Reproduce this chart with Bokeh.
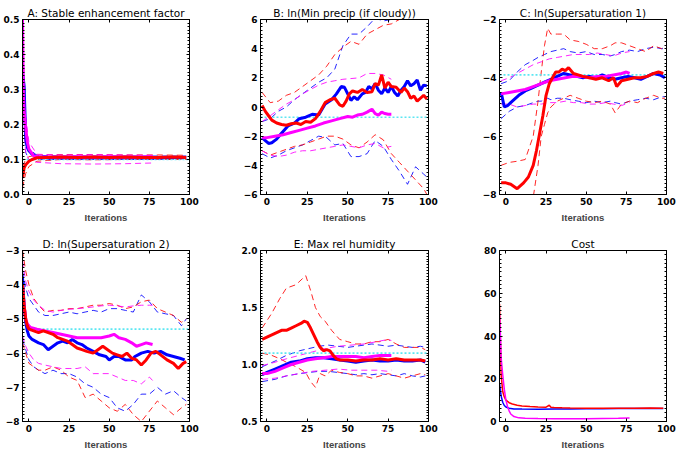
from bokeh.plotting import figure
from bokeh.layouts import gridplot
from bokeh.models import LinearAxis, FixedTicker, NumeralTickFormatter
from bokeh.embed import file_html
from bokeh.resources import INLINE

# ---------------------------------------------------------------- axes / ticks
X_RANGE = (-4, 100)
X_TICKS = [0, 25, 50, 75, 100]
X_LABEL = "Iterations"

TITLES = ["A: Stable enhancement factor", "B: ln(Min precip (if cloudy))",
          "C: ln(Supersaturation 1)", "D: ln(Supersaturation 2)",
          "E: Max rel humidity", "Cost"]

A_YTICKS = [0.0, 0.1, 0.2, 0.3, 0.4, 0.5]
B_YTICKS = [-6, -4, -2, 0, 2, 4, 6]
C_YTICKS = [-8, -6, -4, -2]
D_YTICKS = [-8, -7, -6, -5, -4, -3]
E_YTICKS = [0.5, 1.0, 1.5, 2.0]
F_YTICKS = [0, 20, 40, 60, 80]

# ---------------------------------------------------------------- panel A
A_TRUE = 0.1
A_blue_x = [-4, -3, -2, -1, 0, 2, 4, 6, 10, 20, 30, 40, 50, 60, 70, 80, 90, 98]
A_blue_y = [0.35, 0.31, 0.16, 0.135, 0.125, 0.115, 0.11, 0.107, 0.105, 0.105, 0.105,
            0.105, 0.105, 0.105, 0.105, 0.105, 0.106, 0.106]
A_red_x = [-4, -3, -2, -1, 0, 2, 5, 10, 20, 30, 40, 50, 60, 70, 80, 90, 98]
A_red_y = [0.047, 0.076, 0.085, 0.09, 0.095, 0.1, 0.105, 0.106, 0.107, 0.106, 0.107,
           0.106, 0.107, 0.106, 0.106, 0.107, 0.106]
A_mag_x = [-4, -3.5, -3, -2, -1, 0, 3, 6, 10, 20, 30, 40, 50, 60, 70, 77]
A_mag_y = [0.5, 0.3, 0.24, 0.19, 0.15, 0.13, 0.11, 0.108, 0.107, 0.107, 0.108, 0.107,
           0.108, 0.107, 0.107, 0.108]
A_band_x = [-4, -2, 0, 5, 20, 40, 60, 80, 98]
A_blue_hi = [0.4, 0.17, 0.13, 0.112, 0.11, 0.11, 0.11, 0.11, 0.11]
A_blue_lo = [0.3, 0.12, 0.1, 0.1, 0.1, 0.1, 0.1, 0.1, 0.102]
A_red_hi = [0.08, 0.1, 0.108, 0.113, 0.114, 0.114, 0.113, 0.113, 0.112]
A_red_lo = [0.02, 0.06, 0.08, 0.095, 0.1, 0.099, 0.1, 0.1, 0.1]
A_mband_x = [-4, -2, 0, 5, 20, 40, 60, 77]
A_mag_hi = [0.48, 0.22, 0.15, 0.115, 0.113, 0.114, 0.113, 0.112]
A_mag_lo = [0.25, 0.12, 0.1, 0.092, 0.088, 0.087, 0.088, 0.09]

# ---------------------------------------------------------------- panel B
B_TRUE = -0.7
B_blue_x = [-3, -1, 1, 3, 6, 9, 13, 17, 20, 24, 28, 32, 36, 40, 43, 46, 48, 50, 52, 54,
            56, 59, 61, 63, 65, 67, 69, 71, 73, 75, 77, 79, 81, 83, 85, 87, 89, 91, 93,
            95, 97, 99]
B_blue_y = [-2.1, -2.3, -2.5, -2.45, -2.2, -1.8, -1.3, -1.1, -0.8, -0.7, -0.5, -0.55,
            0.2, 0.5, 0.9, 1.4, 1.35, 0.9, 0.45, 0.7, 0.5, 0.9, 1.0, 1.4, 1.25, 1.6, 1.15,
            0.9, 1.3, 1.0, 1.4, 1.0, 0.75, 1.15, 1.4, 1.8, 1.45, 1.6, 1.85, 1.15, 1.5, 1.45]
B_red_x = [-3, -1, 1, 3, 6, 9, 12, 15, 18, 21, 24, 27, 30, 33, 36, 39, 42, 45, 47, 49,
           51, 53, 56, 59, 62, 65, 67, 69, 71, 73, 75, 77, 80, 83, 85, 87, 89, 91, 93,
           95, 97, 99]
B_red_y = [0.1, -0.3, -0.6, -0.9, -1.1, -1.2, -1.25, -1.15, -1.1, -1.2, -1.0, -1.05,
           -0.8, -0.3, 0.3, 0.5, 0.6, 0.15, 0.05, 0.4, 0.9, 1.1, 1.0, 1.2, 1.0, 1.05, 1.6,
           1.5, 2.2, 1.3, 1.7, 1.4, 1.35, 1.0, 1.3, 1.05, 0.6, 0.75, 0.4, 0.6, 0.8, 0.55]
B_mag_x = [-3, 0, 5, 10, 15, 20, 25, 30, 35, 40, 45, 50, 53, 56, 59, 62, 65, 67, 69, 71,
           73, 75, 77]
B_mag_y = [-2.1, -2.1, -2.0, -1.9, -1.75, -1.6, -1.45, -1.3, -1.1, -0.95, -0.8, -0.65,
           -0.7, -0.55, -0.5, -0.35, -0.15, -0.45, -0.55, -0.35, -0.45, -0.5, -0.5]
B_band_x = [-3, 2, 7, 12, 17, 22, 27, 32, 37, 42, 47, 52, 57, 62, 67, 72, 77, 82, 87,
            92, 97, 99]
B_blue_hi = [-1.0, -0.8, -0.3, 0.0, 0.5, 0.9, 1.3, 1.7, 2.0, 2.6, 4.2, 5.0, 5.0, 5.5,
             6.1, 5.9, 6.0, 6.5, 7.0, 7.0, 7.0, 7.0]
B_blue_lo = [-3.2, -3.5, -3.3, -3.0, -2.8, -2.6, -2.3, -2.0, -2.1, -2.6, -2.5, -3.4,
             -3.4, -3.2, -2.3, -2.7, -3.6, -4.4, -5.3, -4.1, -4.6, -4.8]
B_red_hi = [1.0, 0.3, 0.4, 0.8, 1.0, 1.4, 1.8, 2.2, 2.8, 3.6, 4.1, 4.5, 4.3, 5.0, 5.3,
            5.6, 5.7, 6.0, 6.2, 6.3, 6.3, 6.3]
B_red_lo = [-3.0, -3.3, -3.1, -2.9, -2.7, -2.6, -2.4, -2.2, -2.0, -2.0, -2.2, -2.6,
            -2.8, -2.4, -1.9, -2.25, -3.2, -3.8, -4.4, -5.0, -5.6, -6.0]
B_mband_x = [-3, 2, 7, 12, 17, 22, 27, 32, 37, 42, 47, 52, 57, 62, 67, 72, 77]
B_mag_hi = [-1.0, -0.6, -0.2, 0.2, 0.5, 0.9, 1.2, 1.5, 1.7, 1.8, 1.9, 1.95, 2.0, 2.3,
            2.3, 2.2, 1.9]
B_mag_lo = [-3.0, -3.3, -3.4, -3.3, -3.1, -3.0, -3.0, -2.9, -2.8, -2.7, -2.6, -2.7,
            -2.8, -2.6, -2.5, -2.8, -2.7]

# ---------------------------------------------------------------- panel C
C_TRUE = -3.9
C_blue_x = [-3, -1, 1, 4, 8, 12, 16, 20, 24, 28, 32, 36, 40, 44, 48, 52, 56, 60, 64,
            68, 72, 76, 80, 84, 88, 92, 96, 99]
C_blue_y = [-4.5, -5.0, -4.95, -4.8, -4.6, -4.45, -4.35, -4.25, -4.15, -4.05, -3.95,
            -3.85, -3.9, -3.95, -4.0, -3.95, -4.0, -3.9, -4.0, -4.05, -4.0, -3.95, -4.0,
            -4.05, -3.95, -3.85, -3.9, -4.0]
C_red_x = [-3, 0, 3, 7, 11, 14, 17, 19, 21, 23, 25, 27, 29, 31, 33, 35, 37, 39, 42, 45,
           48, 52, 56, 60, 64, 67, 69, 72, 76, 80, 84, 88, 92, 95, 98]
C_red_y = [-7.6, -7.6, -7.65, -7.8, -7.6, -7.4, -7.0, -6.5, -5.9, -5.3, -4.6, -4.2,
           -4.0, -3.8, -3.8, -3.7, -3.75, -3.65, -3.85, -3.9, -3.95, -4.0, -4.05, -4.0,
           -4.1, -4.0, -4.3, -4.1, -4.05, -4.0, -4.0, -3.95, -3.85, -3.8, -3.85]
C_mag_x = [-3, 2, 7, 12, 17, 22, 27, 32, 37, 42, 47, 52, 57, 62, 67, 72, 75, 77]
C_mag_y = [-4.55, -4.5, -4.45, -4.4, -4.3, -4.2, -4.1, -4.05, -4.0, -3.95, -3.95, -4.0,
           -3.95, -3.95, -3.9, -3.85, -3.8, -3.85]
C_band_x = [-3, 2, 7, 12, 17, 20, 22, 24, 26, 28, 32, 36, 40, 45, 50, 55, 60, 65, 68,
            72, 77, 82, 87, 92, 97, 99]
C_blue_hi = [-4.2, -4.1, -3.8, -3.55, -3.4, -3.3, -3.25, -3.2, -3.15, -3.1, -3.05,
             -3.0, -3.1, -3.15, -3.1, -3.2, -3.2, -3.25, -3.2, -3.1, -3.05, -3.1, -3.0,
             -2.95, -3.0, -3.0]
C_blue_lo = [-5.4, -5.15, -5.0, -4.95, -4.85, -4.8, -4.8, -4.75, -4.7, -4.75, -4.7,
             -4.7, -4.75, -4.8, -4.85, -4.8, -4.85, -4.8, -4.85, -4.9, -4.8, -4.75, -4.7,
             -4.75, -4.65, -4.65]
C_red_hi = [-7.0, -6.9, -6.86, -6.8, -6.0, -4.8, -3.8, -2.9, -2.3, -2.5, -2.5, -2.5,
            -2.7, -2.75, -2.85, -3.0, -3.0, -2.9, -2.8, -2.8, -2.9, -3.0, -3.1, -2.9,
            -3.0, -2.9]
C_red_lo = [-8.3, -8.5, -8.5, -8.4, -8.1, -7.0, -6.0, -5.6, -5.2, -5.0, -4.8, -4.7,
            -4.6, -4.7, -4.8, -4.85, -4.8, -4.9, -5.2, -4.9, -4.8, -4.85, -4.7, -4.6,
            -4.7, -4.7]
C_mband_x = [-3, 2, 7, 12, 17, 22, 27, 32, 37, 42, 47, 52, 57, 62, 67, 72, 77]
C_mag_hi = [-4.1, -4.0, -3.85, -3.7, -3.55, -3.45, -3.35, -3.3, -3.25, -3.2, -3.2,
            -3.2, -3.15, -3.2, -3.25, -3.15, -3.1]
C_mag_lo = [-4.9, -4.9, -5.0, -4.95, -4.9, -4.9, -4.85, -4.85, -4.8, -4.85, -4.85,
            -4.9, -4.9, -4.85, -4.9, -4.95, -4.85]

# ---------------------------------------------------------------- panel D
D_TRUE = -5.3
D_blue_x = [-4, -3, -2, -1, 0, 2, 4, 6, 9, 12, 15, 18, 21, 24, 27, 30, 33, 36, 40, 44,
            48, 50, 53, 56, 60, 64, 66, 68, 70, 74, 78, 82, 86, 90, 94, 97]
D_blue_y = [-3.8, -4.6, -5.1, -5.35, -5.5, -5.6, -5.65, -5.7, -5.75, -5.9, -5.8, -5.7,
            -5.65, -5.7, -5.6, -5.7, -5.75, -5.85, -5.95, -6.05, -6.1, -6.2, -6.1, -6.1,
            -6.2, -6.2, -6.1, -6.05, -6.0, -5.95, -6.0, -5.95, -6.05, -6.1, -6.15, -6.2]
D_red_x = [-4, -3, -2, -1, 0, 3, 6, 9, 12, 15, 18, 21, 24, 27, 30, 33, 36, 40, 43, 46,
           49, 52, 55, 58, 61, 64, 67, 70, 73, 76, 79, 82, 86, 90, 93, 96, 98]
D_red_y = [-4.0, -4.6, -5.0, -5.2, -5.3, -5.35, -5.4, -5.35, -5.4, -5.45, -5.55, -5.6,
           -5.65, -5.75, -5.85, -5.9, -5.95, -6.0, -5.9, -5.8, -5.9, -6.0, -6.05, -6.1,
           -6.0, -6.15, -6.2, -6.35, -6.2, -6.0, -5.95, -6.05, -6.2, -6.3, -6.45, -6.3,
           -6.25]
D_mag_x = [-4, -3, -2, -1, 1, 5, 10, 15, 20, 25, 30, 35, 40, 45, 50, 53, 56, 60, 64,
           67, 70, 73, 77]
D_mag_y = [-4.0, -4.6, -5.0, -5.15, -5.25, -5.3, -5.35, -5.4, -5.45, -5.5, -5.55, -5.55,
           -5.55, -5.55, -5.5, -5.45, -5.55, -5.6, -5.7, -5.8, -5.75, -5.7, -5.75]
D_band_x = [-4, -2, 0, 3, 6, 10, 15, 20, 25, 30, 35, 40, 45, 50, 55, 60, 65, 70, 75,
            80, 85, 90, 95, 98]
D_blue_hi = [-3.6, -4.1, -4.4, -4.6, -4.8, -4.9, -4.9, -4.85, -4.8, -4.85, -4.8, -4.75,
             -4.8, -4.7, -4.7, -4.75, -4.8, -4.3, -4.5, -4.8, -4.85, -4.9, -5.2, -5.0]
D_blue_lo = [-5.6, -5.9, -6.2, -6.4, -6.5, -6.6, -6.5, -6.6, -6.6, -6.7, -6.9, -7.0,
             -7.2, -7.3, -7.6, -7.7, -7.5, -7.2, -7.2, -7.0, -7.2, -7.1, -7.3, -7.4]
D_red_hi = [-3.0, -3.6, -4.0, -4.4, -4.6, -4.8, -4.75, -4.75, -4.7, -4.7, -4.65, -4.6,
            -4.6, -4.55, -4.6, -4.7, -4.65, -4.5, -4.45, -4.7, -4.8, -4.9, -5.1, -5.0]
D_red_lo = [-5.7, -6.0, -6.3, -6.4, -6.5, -6.5, -6.4, -6.5, -6.7, -6.8, -7.3, -7.2,
            -7.4, -7.6, -7.7, -7.5, -7.8, -8.0, -7.7, -7.4, -7.6, -7.8, -7.6, -7.5]
D_mband_x = [-4, -2, 0, 3, 6, 10, 15, 20, 25, 30, 35, 40, 45, 50, 55, 60, 65, 70, 75, 77]
D_mag_hi = [-3.3, -3.9, -4.2, -4.45, -4.6, -4.75, -4.8, -4.75, -4.72, -4.7, -4.68,
            -4.65, -4.62, -4.6, -4.62, -4.65, -4.62, -4.6, -4.6, -4.6]
D_mag_lo = [-5.5, -5.8, -6.0, -6.2, -6.3, -6.35, -6.4, -6.45, -6.45, -6.45, -6.4, -6.6,
            -6.6, -6.6, -6.7, -6.8, -6.8, -6.9, -6.7, -6.8]

# ---------------------------------------------------------------- panel E
E_TRUE = 1.1
E_blue_x = [-3, 0, 5, 10, 15, 20, 25, 30, 35, 40, 45, 50, 55, 60, 65, 70, 75, 80, 85,
            90, 95, 98]
E_blue_y = [0.91, 0.93, 0.96, 0.99, 1.02, 1.03, 1.05, 1.06, 1.06, 1.05, 1.04, 1.03,
            1.02, 1.03, 1.04, 1.03, 1.03, 1.04, 1.03, 1.03, 1.04, 1.02]
E_red_x = [-3, 0, 3, 6, 9, 12, 15, 18, 21, 23, 25, 27, 29, 31, 33, 35, 37, 39, 41, 43,
           45, 50, 55, 60, 65, 70, 75, 80, 85, 90, 95, 98]
E_red_y = [1.22, 1.24, 1.26, 1.28, 1.3, 1.3, 1.32, 1.34, 1.36, 1.38, 1.37, 1.32, 1.26,
           1.2, 1.15, 1.12, 1.13, 1.12, 1.08, 1.05, 1.04, 1.04, 1.03, 1.04, 1.04, 1.05,
           1.04, 1.05, 1.04, 1.04, 1.04, 1.03]
E_mag_x = [-3, 0, 5, 10, 15, 20, 25, 30, 35, 40, 45, 50, 55, 60, 65, 70, 75, 77]
E_mag_y = [0.92, 0.92, 0.94, 0.97, 1.0, 1.02, 1.04, 1.05, 1.06, 1.07, 1.07, 1.07, 1.07,
           1.06, 1.07, 1.08, 1.08, 1.08]
E_rband_x = [-3, 3, 8, 12, 18, 24, 27, 30, 33, 36, 40, 45, 50, 55, 60, 65, 70, 75, 80,
             85, 90, 95, 98]
E_red_hi = [1.32, 1.45, 1.58, 1.67, 1.7, 1.78, 1.65, 1.5, 1.42, 1.38, 1.3, 1.22, 1.2,
            1.18, 1.18, 1.2, 1.2, 1.22, 1.18, 1.15, 1.15, 1.15, 1.13]
E_red_lo = [1.1, 1.08, 1.05, 1.02, 0.98, 0.93, 0.85, 0.8, 0.92, 0.9, 0.95, 0.93, 0.92,
            0.9, 0.9, 0.88, 0.9, 0.92, 0.9, 0.88, 0.9, 0.92, 0.91]
E_bband_x = [-3, 5, 12, 20, 26, 32, 38, 44, 50, 55, 60, 65, 70, 75, 80, 85, 90, 95, 98]
E_blue_hi = [0.98, 1.03, 1.08, 1.12, 1.14, 1.16, 1.17, 1.16, 1.15, 1.16, 1.17, 1.18,
             1.17, 1.16, 1.17, 1.16, 1.15, 1.16, 1.15]
E_blue_lo = [0.85, 0.87, 0.9, 0.92, 0.93, 0.94, 0.94, 0.93, 0.92, 0.91, 0.92, 0.91,
             0.92, 0.91, 0.9, 0.92, 0.9, 0.89, 0.9]
E_mband_x = [-3, 5, 12, 20, 28, 36, 44, 52, 60, 68, 75, 77]
E_mag_hi = [0.99, 1.02, 1.05, 1.08, 1.11, 1.14, 1.16, 1.17, 1.18, 1.2, 1.22, 1.21]
E_mag_lo = [0.87, 0.88, 0.9, 0.92, 0.94, 0.95, 0.96, 0.95, 0.95, 0.95, 0.94, 0.95]

# ---------------------------------------------------------------- panel F (cost)
F_red_x = [-4, -3.5, -3, -2, -1, 0, 2, 4, 7, 10, 15, 20, 25, 27, 28, 30, 35, 40, 50,
           60, 70, 80, 90, 98]
F_red_y = [55, 40, 22, 14, 11.5, 10, 8.8, 8.2, 7.6, 7.3, 7.0, 6.8, 6.7, 7.6, 6.7, 6.6,
           6.4, 6.3, 6.2, 6.2, 6.2, 6.2, 6.3, 6.2]
F_blue_x = [-4, -3, -2, -1, 0, 2, 5, 10, 20, 30, 40, 50, 60, 70, 80, 90, 98]
F_blue_y = [18, 12, 9, 7.5, 6.8, 6.2, 5.9, 5.8, 5.7, 5.8, 5.9, 6.0, 6.0, 6.1, 6.1,
            6.1, 6.1]
F_mag_x = [-4, -3.5, -3, -2, -1, 0, 1, 2, 3, 5, 8, 12, 20, 30, 40, 50, 60, 70, 77]
F_mag_y = [50, 42, 30, 22, 15, 10, 7, 5, 3.5, 2.3, 1.7, 1.5, 1.4, 1.3, 1.3, 1.3, 1.4,
           1.5, 1.6]

BLUE, RED, MAG, CYAN = "#0000ff", "#ff0000", "#ff00ff", "#5ce6f2"


def style_axis(ax, ticker, show_labels):
    ax.ticker = ticker
    ax.axis_line_color = "black"
    ax.major_tick_line_color = "black"
    ax.minor_tick_line_color = "black"
    ax.major_tick_in = 3
    ax.major_tick_out = 0
    ax.minor_tick_in = 2
    ax.minor_tick_out = 0
    ax.major_label_text_font = "DejaVu Sans"
    ax.major_label_text_font_style = "bold"
    if show_labels:
        ax.major_label_text_font_size = "9px"
        ax.major_label_text_color = "black"
        ax.major_label_standoff = 3
    else:
        # mirrored tick marks only: labels are not painted
        ax.major_label_text_font_size = "1px"
        ax.major_label_text_color = None
        ax.major_label_standoff = 0


def frange(a, b, step):
    out, v = [], a
    while v <= b + 1e-9:
        out.append(round(v, 4))
        v += step
    return out


def panel(title, width, y_range, y_ticks, y_minor_step, borders, fmt=None):
    left, right, top, bottom = borders
    p = figure(width=width, height=226, x_range=X_RANGE, y_range=y_range,
               output_backend="svg", toolbar_location=None,
               min_border_left=left, min_border_right=right,
               min_border_top=top, min_border_bottom=bottom)
    p.title.text = title
    p.title.align = "center"
    p.title.text_font = "DejaVu Sans"
    p.title.text_font_size = "10.5px"
    p.title.text_font_style = "normal"
    p.title.text_color = "black"
    p.title.standoff = 1
    p.grid.visible = False
    p.outline_line_color = "black"
    p.outline_line_width = 1

    xt = FixedTicker(ticks=X_TICKS, minor_ticks=[])
    yt = FixedTicker(ticks=y_ticks,
                     minor_ticks=frange(y_range[0], y_range[1], y_minor_step))
    style_axis(p.xaxis[0], xt, True)
    style_axis(p.yaxis[0], yt, True)
    if fmt is not None:
        p.yaxis[0].formatter = NumeralTickFormatter(format=fmt)
    p.xaxis[0].axis_label = X_LABEL
    p.xaxis[0].axis_label_text_font = "Liberation Sans"
    p.xaxis[0].axis_label_text_font_style = "bold"
    p.xaxis[0].axis_label_text_font_size = "9.5px"
    p.xaxis[0].axis_label_standoff = 4

    top_ax = LinearAxis()
    style_axis(top_ax, xt, False)
    p.add_layout(top_ax, "above")
    right_ax = LinearAxis()
    style_axis(right_ax, yt, False)
    p.add_layout(right_ax, "right")
    return p


def bands(p, specs):
    for x, y, c in specs:
        p.line(x, y, line_color=c, line_width=1, line_dash="6 4", line_alpha=0.85)


def truth(p, level):
    p.line([X_RANGE[0], X_RANGE[1]], [level, level], line_color=CYAN, line_width=1.6,
           line_dash="2 2")


def means(p, specs, width=3):
    for x, y, c in specs:
        p.line(x, y, line_color=c, line_width=width)


pA = panel(TITLES[0], 225, (0, 0.5), A_YTICKS, 0.01, (22, 36, 18, 32), "0.0")
bands(pA, [(A_band_x, A_blue_hi, BLUE), (A_band_x, A_blue_lo, BLUE),
           (A_band_x, A_red_hi, RED), (A_band_x, A_red_lo, RED),
           (A_mband_x, A_mag_hi, MAG), (A_mband_x, A_mag_lo, MAG)])
truth(pA, A_TRUE)
means(pA, [(A_blue_x, A_blue_y, BLUE), (A_mag_x, A_mag_y, MAG), (A_red_x, A_red_y, RED)])

pB = panel(TITLES[1], 225, (-6, 6), B_YTICKS, 0.25, (35, 22, 19, 31))
bands(pB, [(B_band_x, B_blue_hi, BLUE), (B_band_x, B_blue_lo, BLUE),
           (B_band_x, B_red_hi, RED), (B_band_x, B_red_lo, RED),
           (B_mband_x, B_mag_hi, MAG), (B_mband_x, B_mag_lo, MAG)])
truth(pB, B_TRUE)
means(pB, [(B_blue_x, B_blue_y, BLUE), (B_mag_x, B_mag_y, MAG), (B_red_x, B_red_y, RED)])

pC = panel(TITLES[2], 227, (-8, -2), C_YTICKS, 0.125, (49, 10, 18, 31))
bands(pC, [(C_band_x, C_blue_hi, BLUE), (C_band_x, C_blue_lo, BLUE),
           (C_band_x, C_red_hi, RED), (C_band_x, C_red_lo, RED),
           (C_mband_x, C_mag_hi, MAG), (C_mband_x, C_mag_lo, MAG)])
truth(pC, C_TRUE)
means(pC, [(C_blue_x, C_blue_y, BLUE), (C_mag_x, C_mag_y, MAG), (C_red_x, C_red_y, RED)])

pD = panel(TITLES[3], 225, (-8, -3), D_YTICKS, 0.1, (22, 36, 24, 29))
bands(pD, [(D_band_x, D_blue_hi, BLUE), (D_band_x, D_blue_lo, BLUE),
           (D_band_x, D_red_hi, RED), (D_band_x, D_red_lo, RED),
           (D_mband_x, D_mag_hi, MAG), (D_mband_x, D_mag_lo, MAG)])
truth(pD, D_TRUE)
means(pD, [(D_blue_x, D_blue_y, BLUE), (D_mag_x, D_mag_y, MAG), (D_red_x, D_red_y, RED)])

pE = panel(TITLES[4], 225, (0.5, 2.0), E_YTICKS, 0.025, (35, 21, 23, 30), "0.0")
bands(pE, [(E_bband_x, E_blue_hi, BLUE), (E_bband_x, E_blue_lo, BLUE),
           (E_rband_x, E_red_hi, RED), (E_rband_x, E_red_lo, RED),
           (E_mband_x, E_mag_hi, MAG), (E_mband_x, E_mag_lo, MAG)])
truth(pE, E_TRUE)
means(pE, [(E_blue_x, E_blue_y, BLUE), (E_mag_x, E_mag_y, MAG), (E_red_x, E_red_y, RED)])

pF = panel(TITLES[5], 227, (0, 80), F_YTICKS, 2, (48, 11, 21, 31))
means(pF, [(F_blue_x, F_blue_y, BLUE), (F_red_x, F_red_y, RED), (F_mag_x, F_mag_y, MAG)],
      width=1.5)

grid = gridplot([[pA, pB, pC], [pD, pE, pF]], toolbar_location=None)

open("out.html", "w").write(file_html(grid, INLINE))
